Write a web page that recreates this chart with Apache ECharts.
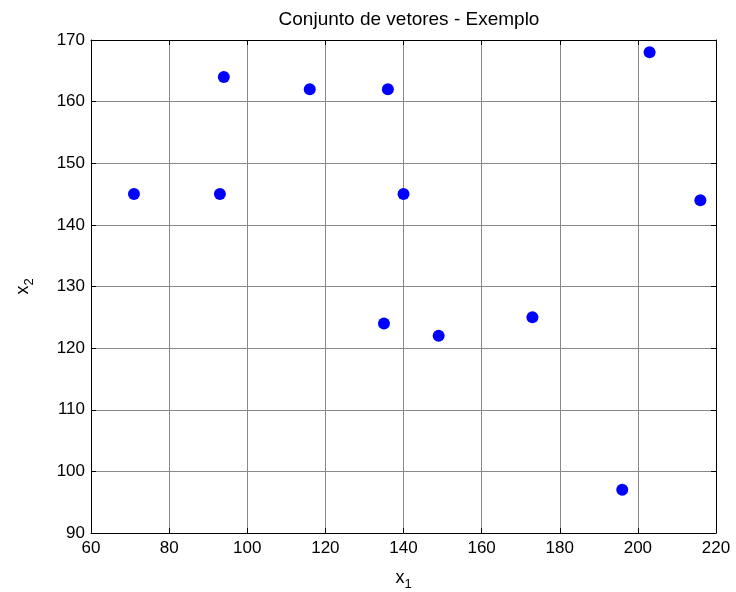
<!DOCTYPE html>
<html>
<head>
<meta charset="utf-8">
<script src="https://cdn.jsdelivr.net/npm/echarts@6/dist/echarts.min.js"></script>
<style>
html,body{margin:0;padding:0;background:#fff;}
#chart{width:736px;height:592px;}
</style>
</head>
<body>
<div id="chart"></div>
<script>
// Vector set: first and second components
const x1Values = [71, 94, 93, 116, 136, 140, 135, 149, 173, 196, 203, 216];
const x2Values = [145, 164, 145, 162, 162, 145, 124, 122, 125, 97, 168, 144];

const xTicks = { min: 60, max: 220, interval: 20 };
const yTicks = { min: 90, max: 170, interval: 10 };

const points = x1Values.map((v, i) => [v, x2Values[i]]);

const font = 'Liberation Sans, Arial, sans-serif';

const chart = echarts.init(document.getElementById('chart'));

const baseAxis = (range) => ({
  type: 'value',
  min: range.min,
  max: range.max,
  interval: range.interval,
  axisLine: { show: true, onZero: false, lineStyle: { color: '#000', width: 1 } },
  axisTick: { show: true, inside: true, length: 5, lineStyle: { color: '#000' } },
  splitLine: { show: false }
});

const nameRich = {
  b: { fontFamily: font, fontSize: 18, color: '#000' },
  s: { fontFamily: font, fontSize: 13, color: '#000', padding: [12, 0, 0, 0] }
};

chart.setOption({
  animation: false,
  backgroundColor: '#fff',
  title: {
    text: 'Conjunto de vetores - Exemplo',
    left: 404,
    top: 5,
    textAlign: 'center',
    textStyle: { fontFamily: font, fontSize: 19, fontWeight: 'normal', color: '#000' }
  },
  grid: { left: 91, right: 20, top: 40, bottom: 59, containLabel: false, outerBoundsMode: 'none' },
  xAxis: [
    Object.assign(baseAxis(xTicks), {
      position: 'bottom',
      name: '{b|x}{s|1}',
      nameLocation: 'middle',
      nameGap: 33,
      nameTextStyle: { rich: nameRich },
      axisLabel: { fontFamily: font, fontSize: 17, color: '#000', margin: 7 },
      splitLine: { show: true, lineStyle: { color: '#888', width: 1 } }
    }),
    Object.assign(baseAxis(xTicks), {
      position: 'top',
      axisLabel: { show: false }
    })
  ],
  yAxis: [
    Object.assign(baseAxis(yTicks), {
      position: 'left',
      name: '{b|x}{s|2}',
      nameLocation: 'middle',
      nameGap: 55,
      nameRotate: 90,
      nameTextStyle: { rich: nameRich },
      axisLabel: { fontFamily: font, fontSize: 17, color: '#000', margin: 6 },
      splitLine: { show: true, lineStyle: { color: '#888', width: 1 } }
    }),
    Object.assign(baseAxis(yTicks), {
      position: 'right',
      axisLabel: { show: false }
    })
  ],
  series: [{
    type: 'scatter',
    data: points,
    symbol: 'circle',
    symbolSize: 12,
    itemStyle: { color: '#0000ff', opacity: 1 }
  }]
});
</script>
</body>
</html>
